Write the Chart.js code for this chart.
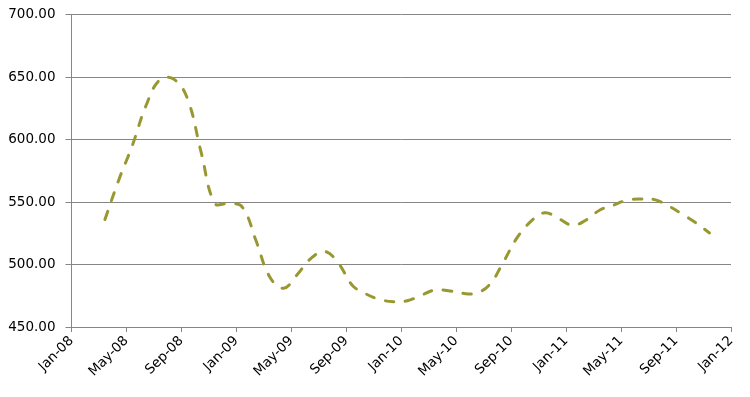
<!DOCTYPE html>
<html>
<head>
<meta charset="utf-8">
<script src="https://cdn.jsdelivr.net/npm/chart.js@4/dist/chart.umd.min.js"></script>
<style>
  html, body { margin: 0; padding: 0; background: #fff; }
  #wrap { width: 750px; height: 397px; }
</style>
</head>
<body>
<div id="wrap"><canvas id="priceChart" width="750" height="397"></canvas></div>
<script>
// fechas de las observaciones (mensuales)
const fechas = [
    '2008-03-14', '2008-04-14', '2008-05-14', '2008-06-14', '2008-07-14', '2008-08-14',
    '2008-09-14', '2008-10-14', '2008-11-14', '2008-12-14',
    '2009-01-14', '2009-02-14', '2009-03-14', '2009-04-14', '2009-05-14', '2009-06-14',
    '2009-07-14', '2009-08-14', '2009-09-14', '2009-10-14', '2009-11-14', '2009-12-14',
    '2010-01-14', '2010-02-14', '2010-03-14', '2010-04-14', '2010-05-14', '2010-06-14',
    '2010-07-14', '2010-08-14', '2010-09-14', '2010-10-14', '2010-11-14', '2010-12-14',
    '2011-01-14', '2011-02-14', '2011-03-14', '2011-04-14', '2011-05-14', '2011-06-14',
    '2011-07-14', '2011-08-14', '2011-09-14', '2011-10-14', '2011-11-14'
];

const valores = [
    536, 567.5, 595.5, 627.5, 648, 648.5,
    633, 590, 549, 549,
    546, 519, 490, 481, 492, 505,
    510.5, 501, 483.5, 476.5, 472, 470.3,
    471, 475.3, 479.6, 479, 477, 477,
    484, 502, 521.5, 534.5, 541.5, 537,
    531.5, 535.5, 543.5, 547.5, 551.5, 552.5,
    552, 547, 540.5, 533.5, 525.3
];

const etiquetasX = ['Jan-08', 'May-08', 'Sep-08', 'Jan-09', 'May-09', 'Sep-09', 'Jan-10',
    'May-10', 'Sep-10', 'Jan-11', 'May-11', 'Sep-11', 'Jan-12'];

const yMin = 450;
const yMax = 700;
const yPaso = 50;

// meses transcurridos desde Jan-08
function mesesDesdeInicio(fecha) {
    const p = fecha.split('-').map(Number);
    return (p[0] - 2008) * 12 + (p[1] - 1) + (p[2] - 1) / 30;
}

const puntos = fechas.map((f, i) => ({ x: mesesDesdeInicio(f), y: valores[i] }));

const gris = '#868686';
const fuenteX = { family: 'DejaVu Sans', size: 13.5, lineHeight: 1 };
const fuenteY = { family: 'DejaVu Sans', size: 13.5, lineHeight: 0.7 };

const ctx = document.getElementById('priceChart').getContext('2d');
new Chart(ctx, {
    type: 'line',
    data: {
        datasets: [{
            data: puntos,
            borderColor: '#989832',
            borderWidth: 3,
            borderDash: [8.5, 11.5],
            borderCapStyle: 'round',
            pointRadius: 0,
            fill: false,
            tension: 0.4
        }]
    },
    options: {
        responsive: false,
        animation: false,
        layout: { padding: { top: 4, right: 19, left: 0, bottom: 0 } },
        plugins: {
            legend: { display: false },
            tooltip: { enabled: false }
        },
        scales: {
            x: {
                type: 'linear',
                min: 0,
                max: (etiquetasX.length - 1) * 4,
                afterFit: function (scale) { scale.height = 70; },
                border: { color: gris, width: 1 },
                grid: { drawOnChartArea: false, drawTicks: true, tickLength: 5, color: gris },
                ticks: {
                    stepSize: 4,
                    autoSkip: false,
                    maxRotation: 45,
                    minRotation: 45,
                    padding: 2,
                    color: '#000',
                    font: fuenteX,
                    callback: function (value) {
                        return etiquetasX[Math.round(value / 4)];
                    }
                }
            },
            y: {
                min: yMin,
                max: yMax,
                afterFit: function (scale) { scale.width = 71.5; },
                border: { color: gris, width: 1 },
                grid: { color: gris, tickLength: 6 },
                ticks: {
                    stepSize: yPaso,
                    padding: 10,
                    color: '#000',
                    font: fuenteY,
                    callback: function (value) { return value.toFixed(2); }
                }
            }
        }
    }
});
</script>
</body>
</html>
